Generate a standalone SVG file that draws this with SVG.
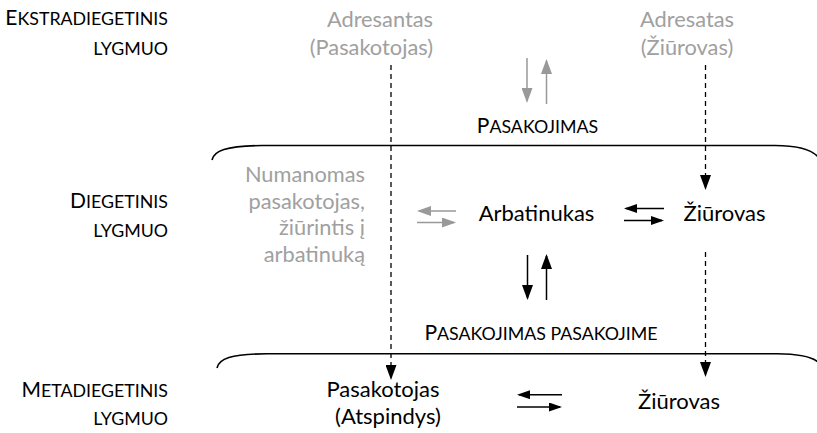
<svg xmlns="http://www.w3.org/2000/svg" width="817" height="433" viewBox="0 0 817 433">
<defs>
<style>
text{font-family:Lato,"Liberation Sans",sans-serif;}
.t{font-size:22px;fill:#000;}
.g{font-size:21.8px;fill:#a0a0a0;}
.m{text-anchor:middle;}
.e{text-anchor:end;}
.lv{font-size:21px;fill:#000;text-anchor:end;}
.sc{font-size:17.8px;}
.brace{fill:none;stroke:#000;stroke-width:1.6;}
.a{stroke:#000;stroke-width:1.5;fill:none;}
.ag{stroke:#999;stroke-width:1.5;fill:none;}
.d{stroke:#000;stroke-width:1.3;stroke-dasharray:5 4;fill:none;}
</style>
<marker id="hv" markerUnits="userSpaceOnUse" viewBox="0 0 15 11" markerWidth="15" markerHeight="11" refX="13" refY="5.5" orient="auto"><path d="M0,0 L15,5.5 L0,11 Z" fill="#000"/></marker>
<marker id="hvg" markerUnits="userSpaceOnUse" viewBox="0 0 15 11" markerWidth="15" markerHeight="11" refX="13" refY="5.5" orient="auto"><path d="M0,0 L15,5.5 L0,11 Z" fill="#999"/></marker>
<marker id="hh" markerUnits="userSpaceOnUse" viewBox="0 0 13 9" markerWidth="13" markerHeight="9" refX="11" refY="4.5" orient="auto"><path d="M0,0 L13,4.5 L0,9 Z" fill="#000"/></marker>
<marker id="hhg" markerUnits="userSpaceOnUse" viewBox="0 0 14 10" markerWidth="14" markerHeight="10" refX="12" refY="5" orient="auto"><path d="M0,0 L14,5 L0,10 Z" fill="#999"/></marker>
</defs>
<rect width="817" height="433" fill="#fff"/>

<g id="levels">
<text class="lv" x="168" y="25">E<tspan class="sc">KSTRADIEGETINIS</tspan></text>
<text class="lv" x="168" y="55"><tspan class="sc">LYGMUO</tspan></text>
<text class="lv" x="168" y="208">D<tspan class="sc">IEGETINIS</tspan></text>
<text class="lv" x="168" y="237"><tspan class="sc">LYGMUO</tspan></text>
<text class="lv" x="168" y="397">M<tspan class="sc">ETADIEGETINIS</tspan></text>
<text class="lv" x="168" y="425"><tspan class="sc">LYGMUO</tspan></text>
</g>

<g id="braces">
<path class="brace" d="M212,160 C214,151 225,146 262,145.5 L775,145.5 C800,145.5 812,150 818,157"/>
<path class="brace" d="M217,368 C219,359 230,354 267,353.8 L777,353.8 C800,354 812,357 818,362"/>
</g>

<g id="node-adresantas">
<text class="g e" x="433" y="27">Adresantas</text>
<text class="g e" x="433" y="55">(Pasakotojas)</text>
</g>
<g id="node-adresatas">
<text class="g m" x="687" y="27">Adresatas</text>
<text class="g m" x="687" y="55">(Žiūrovas)</text>
</g>
<g id="label-pasakojimas">
<text class="t m" x="537.5" y="133" style="font-size:21px">P<tspan class="sc">ASAKOJIMAS</tspan></text>
</g>
<g id="node-numanomas">
<text class="g e" x="365" y="182">Numanomas</text>
<text class="g e" x="365" y="208.5">pasakotojas,</text>
<text class="g e" x="365" y="235">žiūrintis į</text>
<text class="g e" x="365" y="261.5">arbatinuką</text>
</g>
<g id="node-arbatinukas">
<text class="t m" x="536.5" y="221">Arbatinukas</text>
</g>
<g id="node-ziurovas-d">
<text class="t m" x="724.5" y="221">Žiūrovas</text>
</g>
<g id="label-pasakojimas-pasakojime">
<text class="t m" x="541" y="340" style="font-size:21px">P<tspan class="sc">ASAKOJIMAS PASAKOJIME</tspan></text>
</g>
<g id="node-pasakotojas-m">
<text class="t m" x="383" y="397">Pasakotojas</text>
<text class="t m" x="388" y="424">(Atspindys)</text>
</g>
<g id="node-ziurovas-m">
<text class="t m" x="679" y="409">Žiūrovas</text>
</g>

<g id="connectors">
<line class="ag" x1="527" y1="58" x2="527" y2="101" marker-end="url(#hvg)"/>
<line class="ag" x1="546.5" y1="104" x2="546.5" y2="61" marker-end="url(#hvg)"/>
<line class="a" x1="527.5" y1="255" x2="527.5" y2="298" marker-end="url(#hv)"/>
<line class="a" x1="546.5" y1="300" x2="546.5" y2="256" marker-end="url(#hv)"/>
<line class="ag" x1="456" y1="211" x2="419" y2="211" marker-end="url(#hhg)"/>
<line class="ag" x1="417" y1="222.5" x2="454" y2="222.5" marker-end="url(#hhg)"/>
<line class="a" x1="664" y1="208.5" x2="626" y2="208.5" marker-end="url(#hh)"/>
<line class="a" x1="624" y1="220.5" x2="662" y2="220.5" marker-end="url(#hh)"/>
<line class="a" x1="562" y1="394.7" x2="519" y2="394.7" marker-end="url(#hh)"/>
<line class="a" x1="517" y1="407" x2="560" y2="407" marker-end="url(#hh)"/>
<line class="d" x1="391" y1="65" x2="391" y2="378" marker-end="url(#hv)"/>
<line class="d" x1="705.5" y1="65" x2="705.5" y2="188" marker-end="url(#hv)"/>
<line class="d" x1="705.5" y1="252" x2="705.5" y2="375" marker-end="url(#hv)"/>
</g>
</svg>
